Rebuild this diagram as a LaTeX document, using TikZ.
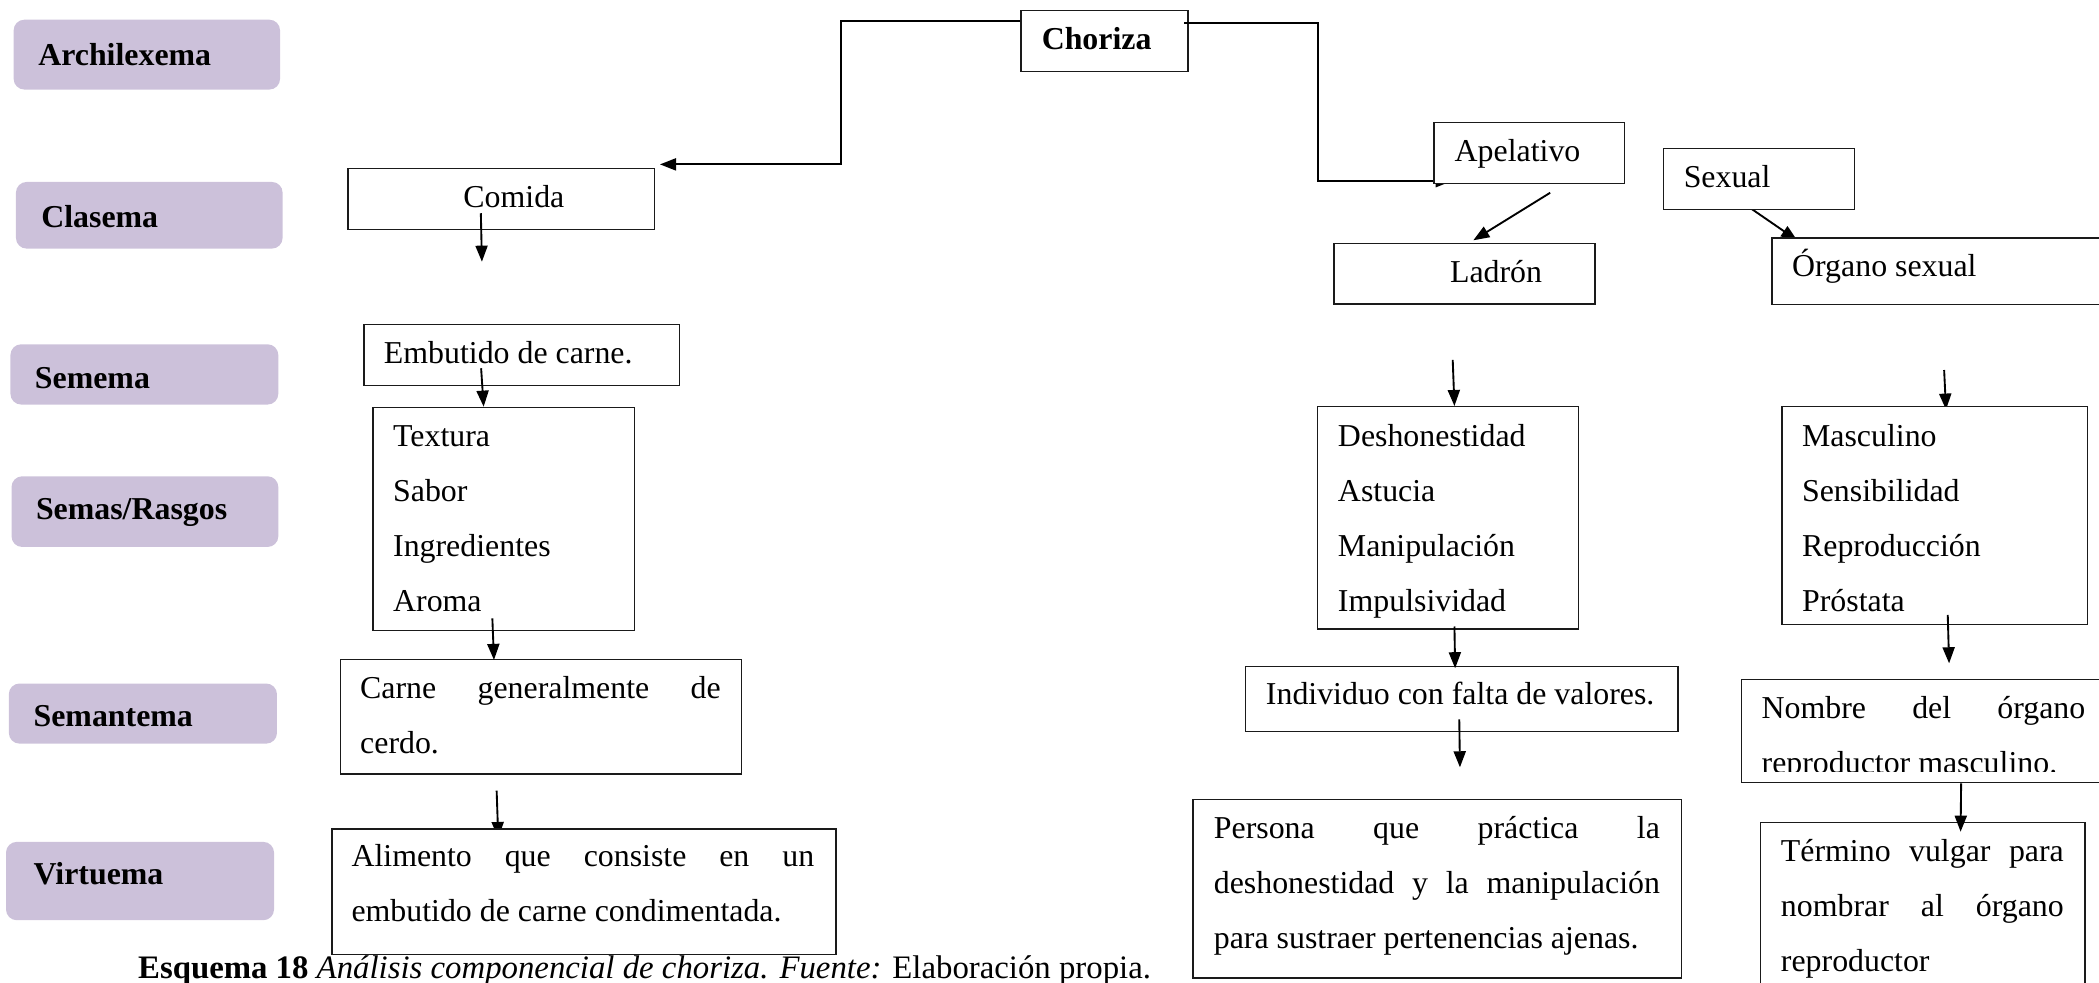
\documentclass[tikz,border=0pt]{standalone}
\usepackage{fontspec}
\setmainfont{Liberation Serif}
\usetikzlibrary{arrows.meta}

\definecolor{lavender}{HTML}{CCC1DA}
\definecolor{framegray}{HTML}{1A1A1A}

\tikzset{
  lvl/.style={fill=lavender, draw=none, rounded corners=8pt, inner sep=0pt, anchor=north west},
  box/.style={draw=framegray, line width=1pt, fill=white, inner sep=0pt, anchor=north west},
  txt/.style={anchor=base west, inner sep=0pt, font=\fontsize{23.8}{28}\selectfont},
  lvltxt/.style={anchor=base west, inner sep=0pt, font=\fontsize{23.8}{28}\selectfont\bfseries},
  captxt/.style={anchor=base west, inner sep=0pt, font=\fontsize{24.5}{28}\selectfont},
  link/.style={line width=1.4pt, -{Triangle[length=12pt,width=9pt]}},
}

% rectangle node from its top-left and bottom-right corners
\newcommand\boxat[6][box]{%
  \node[#1, minimum width={#5pt-#3pt}, minimum height={#6pt-#4pt}] (#2) at (#3,#4) {};}

\begin{document}
\begin{tikzpicture}[x=1pt,y=-1pt]
\clip (0,0) rectangle (1568,734);

% ---- level labels ----
\boxat[lvl]{lArch}{10}{14.5}{209}{66.7}
\node[lvltxt] (tArch) at (28.4,48.6) {Archilexema};
\boxat[lvl]{lClas}{11.7}{135.7}{210.9}{185.5}
\node[lvltxt] (tClas) at (30.7,170) {Clasema};
\boxat[lvl]{lSeme}{7.6}{257}{207.7}{302}
\node[lvltxt] (tSeme) at (25.9,290) {Semema};
\boxat[lvl]{lRasg}{8.4}{355.6}{207.7}{408.4}
\node[lvltxt] (tRasg) at (26.7,388.4) {Semas/Rasgos};
\boxat[lvl]{lSeman}{6.4}{510.4}{206.7}{555.3}
\node[lvltxt] (tSeman) at (24.9,542.8) {Semantema};
\boxat[lvl]{lVirt}{4.3}{628.7}{204.5}{687.2}
\node[lvltxt] (tVirt) at (24.9,661.1) {Virtuema};

% ---- root ----
\boxat{choriza}{762.3}{7.5}{887}{53}
\node[lvltxt] (tChoriza) at (778,37.3) {Choriza};

% ---- connectors whose heads sit under a box ----
\coordinate (k1a) at (762.3,15.4);
\coordinate (k1b) at (628,122.8);
\coordinate (k1c) at (493,122.8);
\draw[link] (k1a) -| (k1b) -- (k1c);

\coordinate (k2a) at (884.7,16.9);
\coordinate (k2b) at (984.8,135.3);
\coordinate (k2c) at (1084.5,135.3);
\draw[link] (k2a) -| (k2b) -- (k2c);

\coordinate (k5a) at (1308.5,156.1);
\coordinate (k5b) at (1342.5,179.5);
\draw[link] (k5a) -- (k5b);

\coordinate (k8a) at (1452.3,276.4);
\coordinate (k8b) at (1453.7,306);
\draw[link] (k8a) -- (k8b);

\coordinate (k12a) at (371,590.6);
\coordinate (k12b) at (372.2,626);
\draw[link] (k12a) -- (k12b);

% ---- Clasema ----
\boxat{comida}{259.4}{125.3}{488.5}{171}
\node[txt] (tComida) at (346,155) {Comida};
\boxat{apel}{1070.7}{91}{1212.8}{136.4}
\node[txt] (tApel) at (1086.5,120.8) {Apelativo};
\boxat{ladron}{996}{181.3}{1191}{226.6}
\node[txt] (tLadron) at (1083,211) {Ladrón};
\boxat{sexual}{1242.3}{110.5}{1385}{156.1}
\node[txt] (tSexual) at (1257.6,140) {Sexual};
\boxat{organo}{1323.3}{177.4}{1580}{227.1}
\node[txt] (tOrgano) at (1338.6,206.7) {Órgano sexual};

% ---- Semema ----
\boxat{embut}{271.4}{242}{506.9}{287.6}
\node[txt] (tEmbut) at (286.6,271.4) {Embutido de carne.};

% ---- Semas / rasgos ----
\boxat{rasgA}{278.2}{303.8}{473.4}{470.6}
\node[txt] (rA1) at (293.5,333.2) {Textura};
\node[txt] (rA2) at (293.5,374.7) {Sabor};
\node[txt] (rA3) at (293.5,415.8) {Ingredientes};
\node[txt] (rA4) at (293.5,456.9) {Aroma};

\boxat{rasgB}{983.8}{303.3}{1178.8}{469.4}
\node[txt] (rB1) at (999.3,333.2) {Deshonestidad};
\node[txt] (rB2) at (999.3,374.7) {Astucia};
\node[txt] (rB3) at (999.3,415.8) {Manipulación};
\node[txt] (rB4) at (999.3,456.9) {Impulsividad};

\boxat{rasgC}{1330.7}{303.3}{1559}{466.1}
\node[txt] (rC1) at (1346,333.2) {Masculino};
\node[txt] (rC2) at (1346,374.7) {Sensibilidad};
\node[txt] (rC3) at (1346,415.8) {Reproducción};
\node[txt] (rC4) at (1346,456.9) {Próstata};

% ---- Semantema ----
\boxat{carne}{253.8}{492.3}{553.2}{577.7}
\node[txt] (carne1) at (268.9,521.7) {\makebox[269.3pt][s]{Carne generalmente de}};
\node[txt] (carne2) at (268.9,562.7) {cerdo.};

\boxat{indiv}{930}{497.2}{1253}{545.8}
\node[txt] (tIndiv) at (945.5,526.6) {Individuo con falta de valores.};

\boxat{nombre}{1300.3}{507}{1580}{584}
\node[txt] (nom1) at (1315.8,537) {\makebox[241.7pt][s]{Nombre del órgano}};
\begin{scope}
  \clip (1300.3,550) rectangle (1580,576.4);
  \node[txt] (nom2) at (1315.8,578) {reproductor masculino.};
\end{scope}

% ---- Virtuema ----
\boxat{alim}{247.4}{618.8}{623.9}{712.7}
\node[txt] (alim1) at (262.4,647.4) {\makebox[345.6pt][s]{Alimento que consiste en un}};
\node[txt] (alim2) at (262.4,688.5) {embutido de carne condimentada.};

\boxat{persona}{890.7}{596.8}{1255.6}{730}
\node[txt] (per1) at (906.6,626.2) {\makebox[333.2pt][s]{Persona que práctica la}};
\node[txt] (per2) at (906.6,667.3) {\makebox[333.2pt][s]{deshonestidad y la manipulación}};
\node[txt] (per3) at (906.6,708.4) {para sustraer pertenencias ajenas.};

\boxat{termino}{1314.6}{613.8}{1557}{760}
\node[txt] (ter1) at (1330.2,643.5) {\makebox[211.3pt][s]{Término vulgar para}};
\node[txt] (ter2) at (1330.2,684.5) {\makebox[211.3pt][s]{nombrar al órgano}};
\node[txt] (ter3) at (1330.2,725.5) {reproductor};

% ---- connectors drawn over the boxes ----
\coordinate (k3a) at (359.2,159.3);  \coordinate (k3b) at (360,195.5);
\draw[link] (k3a) -- (k3b);
\coordinate (k4a) at (1158,144);     \coordinate (k4b) at (1100.6,179.5);
\draw[link] (k4a) -- (k4b);
\coordinate (k6a) at (359.4,275.1);  \coordinate (k6b) at (361.3,303.8);
\draw[link] (k6a) -- (k6b);
\coordinate (k7a) at (1085.2,268.9); \coordinate (k7b) at (1086.5,303.3);
\draw[link] (k7a) -- (k7b);
\coordinate (k9a) at (367.8,461.9);  \coordinate (k9b) at (369,493);
\draw[link] (k9a) -- (k9b);
\coordinate (k10a) at (1086.5,468);  \coordinate (k10b) at (1087,499.2);
\draw[link] (k10a) -- (k10b);
\coordinate (k11a) at (1455,459.4);  \coordinate (k11b) at (1456,495.5);
\draw[link] (k11a) -- (k11b);
\coordinate (k13a) at (1090.1,537.3); \coordinate (k13b) at (1090.6,573.2);
\draw[link] (k13a) -- (k13b);
\coordinate (k14a) at (1465,585.2);  \coordinate (k14b) at (1464.6,621.3);
\draw[link] (k14a) -- (k14b);

% ---- caption ----
\node[captxt] (caption) at (103,731) {\textbf{Esquema 18} \textit{Análisis componencial de choriza. Fuente:} Elaboración propia.};
\end{tikzpicture}
\end{document}
